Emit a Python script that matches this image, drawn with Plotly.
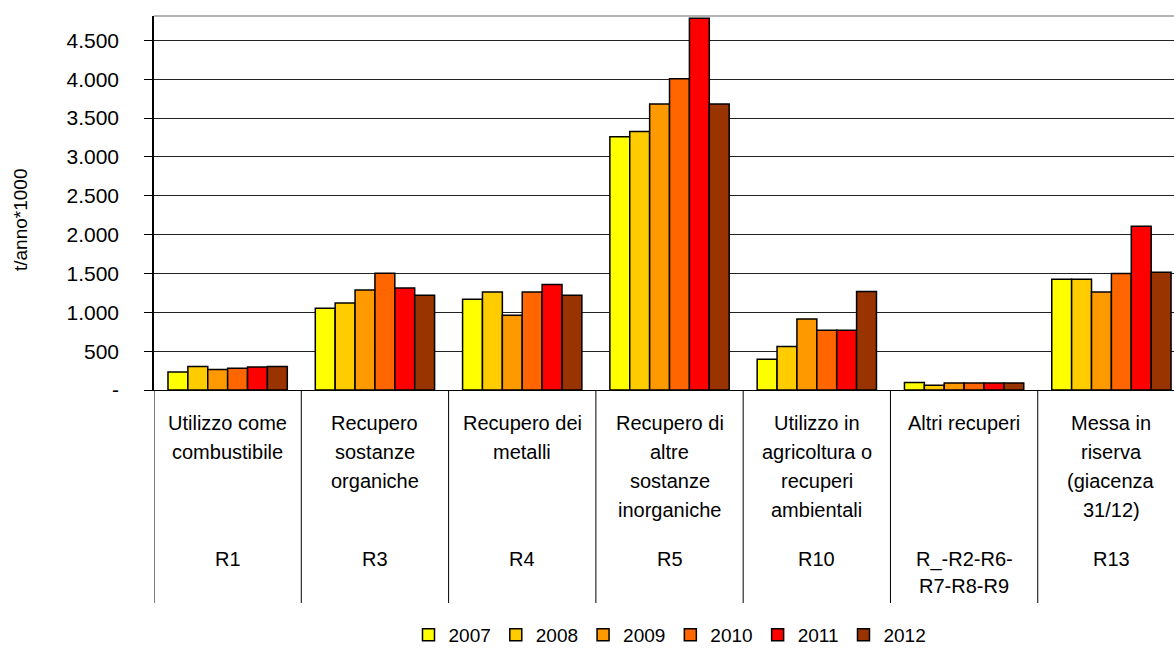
import plotly.graph_objects as go

# dati (t/anno*1000)
categorie = ["R1", "R3", "R4", "R5", "R10", "R_-R2-R6-R7-R8-R9", "R13"]
descrizioni = [
    ["Utilizzo come", "combustibile"],
    ["Recupero", "sostanze", "organiche"],
    ["Recupero dei", "metalli"],
    ["Recupero di", "altre", "sostanze", "inorganiche"],
    ["Utilizzo in", "agricoltura o", "recuperi", "ambientali"],
    ["Altri recuperi"],
    ["Messa in", "riserva", "(giacenza", "31/12)"],
]
codici = [["R1"], ["R3"], ["R4"], ["R5"], ["R10"], ["R_-R2-R6-", "R7-R8-R9"], ["R13"]]

anni = ["2007", "2008", "2009", "2010", "2011", "2012"]
v2007 = [232, 1052, 1168, 3259, 395, 95, 1426]
v2008 = [301, 1121, 1262, 3328, 559, 60, 1426]
v2009 = [263, 1288, 962, 3680, 915, 90, 1262]
v2010 = [280, 1503, 1262, 4006, 769, 90, 1499]
v2011 = [296, 1314, 1357, 4783, 769, 90, 2108]
v2012 = [301, 1220, 1220, 3680, 1267, 90, 1516]
valori = [v2007, v2008, v2009, v2010, v2011, v2012]
colori = ["#FFFF00", "#FFCC00", "#FF9900", "#FF6600", "#FF0000", "#993300"]

tick_vals = [0, 500, 1000, 1500, 2000, 2500, 3000, 3500, 4000, 4500]
tick_text = ["-", "500", "1.000", "1.500", "2.000", "2.500", "3.000", "3.500", "4.000", "4.500"]

font = "Liberation Sans, Arial, sans-serif"
W, H = 1174, 654
left, top, bottom = 154, 16, 390
alt = bottom - top


def py(pix):
    # posizione verticale in pixel -> coordinate paper
    return (bottom - pix) / alt


def px_(pix):
    # posizione orizzontale in pixel -> coordinate paper
    return (pix - left) / (W - left)


fig = go.Figure()
for anno, vals, col in zip(anni, valori, colori):
    fig.add_trace(go.Bar(x=categorie, y=vals, name=anno,
                         marker=dict(color=col, line=dict(color="black", width=1.5))))

annotazioni = []
for i, righe in enumerate(descrizioni):
    for j, r in enumerate(righe):
        annotazioni.append(dict(x=i, xref="x", y=py(423 + 29 * j), yref="paper",
                                text=r, showarrow=False, yanchor="middle",
                                font=dict(size=20, color="black", family=font)))
for i, righe in enumerate(codici):
    for j, r in enumerate(righe):
        annotazioni.append(dict(x=i, xref="x", y=py(559 + 27 * j), yref="paper",
                                text=r, showarrow=False, yanchor="middle",
                                font=dict(size=20, color="black", family=font)))

# titolo asse y
annotazioni.append(dict(x=px_(21), xref="paper", y=py(220), yref="paper",
                        text="t/anno*1000", showarrow=False, textangle=-90,
                        xanchor="center", yanchor="middle",
                        font=dict(size=19, color="black", family=font)))

# linee divisorie sotto l'asse
forme = []
for k in range(len(categorie)):
    forme.append(dict(type="line", xref="x", yref="paper", x0=k - 0.5, x1=k - 0.5,
                      y0=0, y1=py(603), line=dict(color="black", width=1)))
forme.append(dict(type="line", xref="paper", yref="paper", x0=0, x1=1, y0=1, y1=1,
                  line=dict(color="#999999", width=1.5)))

fig.update_layout(
    width=W, height=H,
    margin=dict(l=left, r=0, t=top, b=H - bottom, autoexpand=False),
    plot_bgcolor="white", paper_bgcolor="white",
    barmode="group", bargap=0.19, bargroupgap=0,
    font=dict(family=font, size=20, color="black"),
    showlegend=True,
    legend=dict(orientation="h", x=px_(670), xanchor="center", y=py(654), yanchor="bottom",
                font=dict(size=19), itemwidth=30, traceorder="normal", tracegroupgap=0,
                borderwidth=0),
    annotations=annotazioni,
    shapes=forme,
)
fig.update_xaxes(range=[-0.5, 6.425], showticklabels=False, showline=True,
                 linecolor="black", linewidth=1, ticks="", automargin=False)
fig.update_yaxes(range=[0, 4813], tickvals=tick_vals, ticktext=tick_text,
                 tickfont=dict(size=21),
                 showgrid=True, gridcolor="#222222", gridwidth=1,
                 showline=True, linecolor="black", linewidth=1.5,
                 ticks="outside", ticklen=8, tickcolor="black",
                 ticklabelstandoff=21, zeroline=False, automargin=False)

fig.write_html("out.html", config={"displayModeBar": False},
               post_script="document.body.style.margin='0';")
